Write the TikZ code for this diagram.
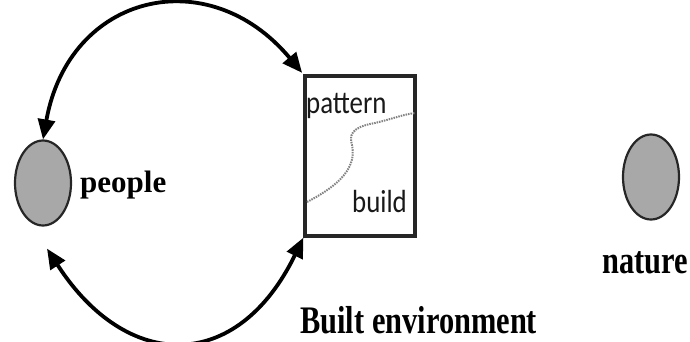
\documentclass[tikz,border=0pt]{standalone}
\usepackage{fontspec}
\usetikzlibrary{arrows.meta,shapes.geometric}
\newfontfamily\tnr{Liberation Serif}
\newfontfamily\tnrn[FakeStretch=0.78]{Liberation Serif}
\newfontfamily\calib[FakeStretch=0.84]{Carlito}
\definecolor{blobfill}{RGB}{168,168,168}
\definecolor{dotgray}{RGB}{130,130,130}
\begin{document}
\begin{tikzpicture}[x=1pt,y=-1pt,
  blob/.style={ellipse, draw=black!85, line width=2.2pt, fill=blobfill, minimum width=56pt, minimum height=85pt, inner sep=0pt},
  frame/.style={rectangle, draw=black!85, line width=3.2pt, minimum width=110pt, minimum height=160pt, inner sep=0pt},
  lbl/.style={inner sep=0pt, anchor=base west},
  serifbig/.style={font=\tnrn\bfseries\fontsize{39}{39}\selectfont},
  sanslbl/.style={font=\calib\fontsize{32}{32}\selectfont, text=black!90},
  arr/.style={line width=3.8pt, {Triangle[length=20pt,width=17pt]}-{Triangle[length=20pt,width=17pt]}}]
\useasboundingbox (0,0) rectangle (690,341);
\node[blob] (people) at (43,183) {};
\node[blob] (nature) at (651,177) {};
\node[frame] (box) at (360,156) {};
\coordinate (pb) at ([shift={(4,22)}]people.south);
\draw[arr, shorten >=2pt] (people.north) .. controls +(26,-146) and +(-95,-114) .. (box.north west);
\draw[arr] (pb) .. controls +(80,124) and +(-66,136) .. (box.south west);
\draw[dotgray, line width=2pt, dash pattern=on 1.5pt off 1pt]
  (307,202) .. controls (330,190) and (358,172) .. (352,145)
  .. controls (349,135) and (352,128) .. (370,124)
  .. controls (390,120) and (400,115) .. (415,113);
\node[lbl, font=\tnr\bfseries\fontsize{31}{31}\selectfont] (plab) at (80,192) {people};
\node[inner sep=0pt, anchor=base, serifbig] (nlab) at (645,273) {nature};
\node[lbl, serifbig] (blab) at (300,333) {Built environment};
\node[lbl, sanslbl] (pat) at (306,113) {pattern};
\node[lbl, sanslbl] (bld) at (352,212) {build};
\end{tikzpicture}
\end{document}
